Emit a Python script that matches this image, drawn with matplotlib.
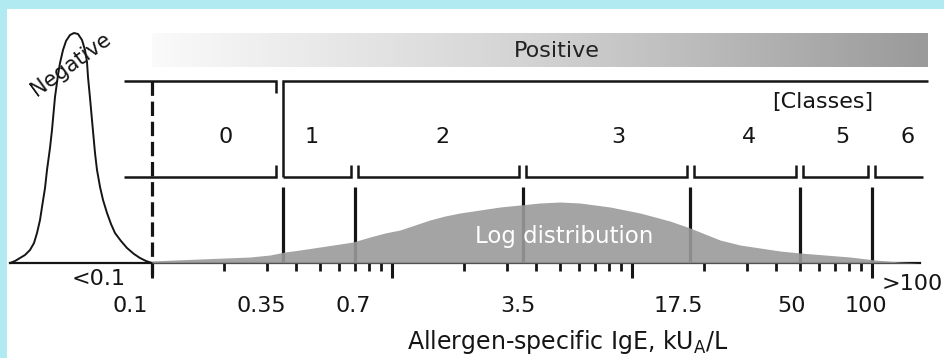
import numpy as np
import matplotlib
matplotlib.use('Agg')
import matplotlib.pyplot as plt
from matplotlib.colors import LinearSegmentedColormap

# class cut-offs, kU_A/L
cutoffs = [0.35, 0.7, 3.5, 17.5, 50, 100]
cutoff_labels = ['0.35', '0.7', '3.5', '17.5', '50', '100']
classes = ['0', '1', '2', '3', '4', '5', '6']
class_x = [0.203, 0.464, 1.62, 8.74, 30.7, 75.0, 141]

# negative population (kU_A/L, relative height)
neg_x = [0.02561, 0.02687, 0.02818, 0.02957, 0.03102, 0.03224, 0.03318, 0.03415,
         0.03481, 0.03583, 0.03652, 0.03758, 0.03831, 0.03943, 0.04059, 0.04137,
         0.04258, 0.04383, 0.04553, 0.04732, 0.04917, 0.05109, 0.05258, 0.05360,
         0.05412, 0.05517, 0.05623, 0.05788, 0.05900, 0.06074, 0.06251, 0.06494,
         0.06748, 0.07010, 0.07426, 0.07867, 0.08414, 0.08913, 0.09441, 0.1]
neg_y = [0, 2, 5, 8, 13, 20, 30, 43, 56, 75, 93, 115, 133, 166, 188, 200, 213, 222,
         228, 230, 229, 223, 213, 201, 186, 165, 143, 110, 93, 76, 63, 50, 39, 30,
         22, 15, 9, 5, 2, 0]

# log distribution of positives
pos_x = [0.1, 0.1, 0.1247, 0.1585, 0.2014, 0.2563, 0.3102, 0.3580, 0.4137, 0.5012,
         0.6074, 0.6880, 0.8098, 0.9351, 1.080, 1.247, 1.438, 1.663, 1.918, 2.326,
         2.818, 3.415, 4.135, 5.012, 6.074, 7.013, 8.103, 9.351, 10.80, 12.47, 14.38,
         17.45, 20.14, 23.26, 28.18, 34.15, 41.37, 50.12, 63.70, 80.98, 102.9, 130.8,
         158.5]
pos_y = [0, 2, 3, 4, 5, 6, 8, 11, 13, 16, 19, 21, 26, 30, 33, 38, 43, 47, 50, 53, 56,
         58, 60, 61, 60, 58, 56, 53, 50, 46, 42, 35, 29, 23, 18, 15, 12, 10, 8, 6, 3,
         1, 0]

W, H = 945, 358
ink = '#151515'
plt.rcParams['font.family'] = ['DejaVu Sans']


def px(p):
    # pixel column -> kU_A/L (0.1 at 152 px, 240 px per decade)
    return 10 ** (-1 + (p - 152) / 240)


fig = plt.figure(figsize=(W / 100, H / 100), dpi=100, facecolor='#b2eaf2')
ax = fig.add_axes([7 / W, 0, 1 - 7 / W, 1 - 9 / H])
ax.set_facecolor('white')
ax.set_xscale('log')
ax.set_xlim(px(7), px(945))
ax.set_ylim(-95, 254)

for s in ['top', 'right', 'left']:
    ax.spines[s].set_visible(False)
ax.spines['bottom'].set_position(('data', 0))
ax.spines['bottom'].set_bounds(px(10), px(920))
ax.spines['bottom'].set_linewidth(1.6)
ax.spines['bottom'].set_color(ink)
ax.set_yticks([])
ax.set_xticks([0.1, 1, 10, 100])
ax.set_xticks([k * 10.0 ** d for d in (-1, 0, 1) for k in range(2, 10)], minor=True)
ax.tick_params(which='major', length=11, width=2.2, color=ink, labelbottom=False)
ax.tick_params(which='minor', length=6, width=2.0, color=ink, labelbottom=False)

# gradient "Positive" bar
gax = ax.inset_axes([0.1, 196, px(928) - 0.1, 34], transform=ax.transData)
cmap = LinearSegmentedColormap.from_list('pos', ['#fafafa', '#d2d2d2', '#9a9a9a'])
gax.imshow(np.linspace(0, 1, 256)[None, :], aspect='auto', cmap=cmap, extent=[0, 1, 0, 1])
gax.axis('off')
gax.text(0.522, 0.47, 'Positive', ha='center', va='center', fontsize=16, color='#222')

# class boxes
f = 10 ** (3.5 / 240)
g = 10 ** (7 / 240)
left, right_top, right_bot = px(124), px(928), px(923)
top_h, bot_h, hook = 182, 86, 12
kw = dict(color=ink, lw=1.8, solid_joinstyle='miter', solid_capstyle='butt')
ax.plot([left, cutoffs[0] / g, cutoffs[0] / g], [top_h, top_h, top_h - hook], **kw)
ax.plot([cutoffs[0], cutoffs[0], right_top], [bot_h, top_h, top_h], **kw)
ax.plot([left, cutoffs[0] / g, cutoffs[0] / g], [bot_h, bot_h, bot_h + hook], **kw)
starts = [cutoffs[0]] + [c * f for c in cutoffs[1:]]
ends = [c / f for c in cutoffs[1:]] + [right_bot]
for i, (s, e) in enumerate(zip(starts, ends)):
    xs, ys = [s, e], [bot_h, bot_h]
    if i > 0:
        xs, ys = [s] + xs, [bot_h + hook] + ys
    if i < len(ends) - 1:
        xs, ys = xs + [e], ys + [bot_h + hook]
    ax.plot(xs, ys, **kw)

ax.vlines(cutoffs, 0, 76, color=ink, lw=2.3, zorder=2)
ax.plot([0.1, 0.1], [182, -12], color=ink, lw=2.3, ls=(0, (4.5, 1.8)))

# distributions
ax.plot(neg_x, neg_y, color=ink, lw=1.4, solid_joinstyle='round')
ax.fill_between(pos_x, pos_y, 0, color='#9a9a9a', alpha=0.9, lw=0, zorder=3)

# texts
tk = dict(fontsize=16, color=ink, ha='center', va='baseline')
for c, s, dx in zip(cutoffs, cutoff_labels, [-21, -2, -5, -12, -8, -6]):
    ax.annotate(s, (c, -49), xytext=(dx, 0), textcoords='offset pixels', **tk)
ax.annotate('0.1', (0.1, -49), xytext=(-22, 0), textcoords='offset pixels', **tk)
ax.annotate('<0.1', (0.1, -22), xytext=(-53, 0), textcoords='offset pixels', **tk)
ax.annotate('>100', (100, -27), xytext=(40, 0), textcoords='offset pixels', **tk)

for x, s in zip(class_x, classes):
    ax.text(x, 120, s, **tk)
ax.text(px(823), 155, '[Classes]', **tk)

ax.text(5.21, 20, 'Log distribution', fontsize=16.5, color='white', ha='center',
        va='baseline', zorder=4)
ax.text(0.046, 199, 'Negative', fontsize=15, color=ink, rotation=36,
        ha='center', va='center', rotation_mode='anchor')
ax.text(5.41, -86, r'Allergen-specific IgE, kU$_\mathregular{A}$/L', fontsize=17,
        color=ink, ha='center', va='baseline')

fig.savefig('out.png', dpi=100, facecolor=fig.get_facecolor())
